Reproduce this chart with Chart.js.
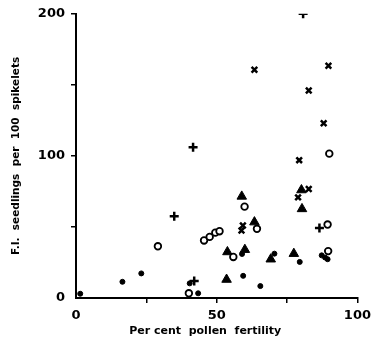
<!DOCTYPE HTML>
<html>
<head>
    <script src="https://cdn.jsdelivr.net/npm/chart.js"></script>
</head>
<body>
<style>
    * {
        margin: 0;
        padding: 0;
        box-sizing: border-box;
    }
    body {
        background: #ffffff;
    }
    .chart {
        position: relative;
        width: 376px;
        height: 339px;
    }
</style>
<div class="chart">
    <canvas id="myChart"></canvas>
</div>
<script>
    // pollen fertility (%) vs F.I. seedlings per 100 spikelets, one list per marker
    const plusX = [80.7, 41.6, 34.9, 86.5, 42.0];
    const plusY = [200, 106, 57.6, 49.2, 11.9];

    const crossX = [63.4, 89.7, 82.7, 88.0, 79.3, 82.7, 78.9, 59.3, 58.8];
    const crossY = [160.6, 163.4, 146, 123, 97, 76.7, 70.8, 51, 47.5];

    const ringX = [90.0, 29.1, 45.5, 47.5, 49.5, 51.0, 59.9, 64.3, 55.9, 89.4, 89.6, 40.1];
    const ringY = [101.6, 36.4, 40.5, 43, 46, 47, 64.3, 48.7, 28.9, 51.7, 33, 3.3];

    const triX = [58.9, 80.1, 80.3, 63.4, 53.8, 60.0, 69.2, 77.4, 53.5];
    const triY = [71.5, 76, 62.7, 53.4, 32.4, 34, 27.3, 31.2, 13];

    const dotX = [1.5, 16.5, 23.2, 40.4, 43.4, 59.0, 59.4, 70.5, 79.5, 87.3, 88.5, 89.4, 65.5];
    const dotY = [3, 11.4, 17.3, 10.3, 3.3, 31, 15.6, 31.2, 25.4, 30, 28.5, 27.3, 8.4];

    const yLabels = [0, 100, 200];
    const xLabels = [0, 50, 100];

    function pts(xs, ys) {
        return xs.map((x, i) => ({x: x, y: ys[i]}));
    }

    const font = {family: 'DejaVu Sans', weight: 'bold'};
    const noZero = ctx => (ctx.tick && ctx.tick.value === 0) ? 'rgba(0,0,0,0)' : '#000';

    const ctx = document.getElementById('myChart');
    new Chart(ctx, {
        type: 'scatter',
        data: {
            datasets: [
                {data: pts(plusX, plusY), pointStyle: 'cross', pointRadius: 4.5, borderColor: '#000', borderWidth: 2.5},
                {data: pts(crossX, crossY), pointStyle: 'crossRot', pointRadius: 4, borderColor: '#000', borderWidth: 2.5},
                {data: pts(ringX, ringY), pointStyle: 'circle', pointRadius: 3.3, borderColor: '#000', backgroundColor: '#fff', borderWidth: 1.8},
                {data: pts(triX, triY), pointStyle: 'triangle', pointRadius: 5.5, borderColor: '#000', backgroundColor: '#000', borderWidth: 1},
                {data: pts(dotX, dotY), pointStyle: 'circle', pointRadius: 2.5, borderColor: '#000', backgroundColor: '#000', borderWidth: 1}
            ]
        },
        options: {
            responsive: true,
            maintainAspectRatio: false,
            animation: false,
            layout: {padding: {top: 13, right: 14, left: 0, bottom: 0}},
            plugins: {legend: {display: false}, tooltip: {enabled: false}},
            scales: {
                x: {
                    min: 0, max: 100,
                    afterFit: s => { s.height = 41; },
                    border: {color: '#000', width: 2},
                    grid: {drawOnChartArea: false, tickLength: 5, color: noZero, lineWidth: 1.5},
                    ticks: {
                        stepSize: 25, padding: 5, color: '#000', maxRotation: 0,
                        font: Object.assign({size: 13}, font),
                        callback: v => xLabels.includes(v) ? String(v) : ''
                    },
                    // trailing spaces nudge the centred title a little left, as in the original
                    title: {display: true, text: 'Per cent  pollen  fertility      ', color: '#000',
                        font: Object.assign({size: 11}, font), padding: {top: 0, bottom: 1}}
                },
                y: {
                    min: 0, max: 200,
                    afterFit: s => { s.width = 76; },
                    border: {color: '#000', width: 2},
                    grid: {drawOnChartArea: false, tickLength: 5, color: noZero, lineWidth: 1.5},
                    ticks: {
                        stepSize: 50, padding: 6, color: '#000',
                        font: Object.assign({size: 13}, font),
                        callback: v => yLabels.includes(v) ? String(v) : ''
                    },
                    title: {display: true, text: 'F.I.  seedlings  per  100  spikelets', color: '#000',
                        font: Object.assign({size: 10.5}, font), padding: {top: 10, bottom: 0}}
                }
            }
        }
    });
</script>
</body>
</html>
